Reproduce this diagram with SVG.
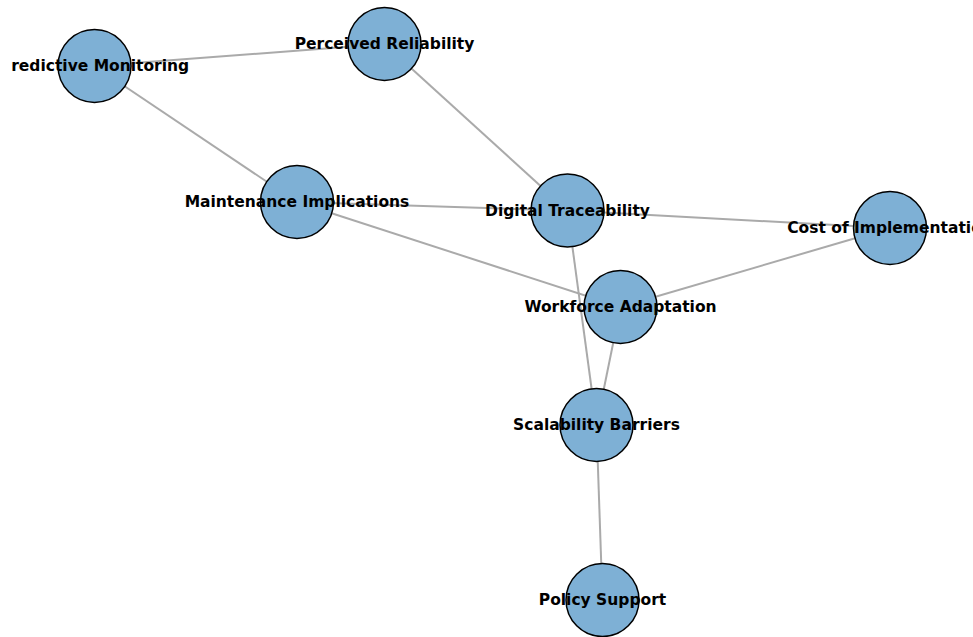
<svg xmlns="http://www.w3.org/2000/svg" width="973" height="637" viewBox="0 0 973 637">
<style>
.e{stroke:#aaaaaa;stroke-width:2;fill:none}
.n{fill:#7eb0d5;stroke:#000;stroke-width:1.5}
.t{font-family:"DejaVu Sans",sans-serif;font-weight:bold;font-size:15.5px;fill:#000;text-anchor:middle}
</style>
<defs>
<clipPath id="clipL"><rect x="11.5" y="0" width="961.5" height="637"/></clipPath>
</defs>
<rect width="973" height="637" fill="#fff"/>
<g id="edges">
<line class="e" x1="94.5" y1="66" x2="384.5" y2="44"/>
<line class="e" x1="94.5" y1="66" x2="297" y2="202"/>
<line class="e" x1="384.5" y1="44" x2="567.5" y2="210.5"/>
<line class="e" x1="297" y1="202" x2="567.5" y2="210.5"/>
<line class="e" x1="297" y1="202" x2="620.5" y2="307"/>
<line class="e" x1="567.5" y1="210.5" x2="890" y2="228"/>
<line class="e" x1="567.5" y1="210.5" x2="596.5" y2="425"/>
<line class="e" x1="890" y1="228" x2="620.5" y2="307"/>
<line class="e" x1="620.5" y1="307" x2="596.5" y2="425"/>
<line class="e" x1="596.5" y1="425" x2="602.5" y2="600"/>
</g>
<g id="pm"><circle class="n" cx="94.5" cy="66" r="36.5"/></g>
<g id="pr"><circle class="n" cx="384.5" cy="44" r="36.5"/></g>
<g id="mi"><circle class="n" cx="297" cy="202" r="36.5"/></g>
<g id="dt"><circle class="n" cx="567.5" cy="210.5" r="36.5"/></g>
<g id="ci"><circle class="n" cx="890" cy="228" r="36.5"/></g>
<g id="wa"><circle class="n" cx="620.5" cy="307" r="36.5"/></g>
<g id="sb"><circle class="n" cx="596.5" cy="425" r="36.5"/></g>
<g id="ps"><circle class="n" cx="602.5" cy="600" r="36.5"/></g>
<g id="labels">
<text class="t" x="94.5" y="71" clip-path="url(#clipL)">Predictive Monitoring</text>
<text class="t" x="384.5" y="49">Perceived Reliability</text>
<text class="t" x="297" y="207">Maintenance Implications</text>
<text class="t" x="567.5" y="215.5">Digital Traceability</text>
<text class="t" x="890" y="233">Cost of Implementation</text>
<text class="t" x="620.5" y="312">Workforce Adaptation</text>
<text class="t" x="596.5" y="430">Scalability Barriers</text>
<text class="t" x="602.5" y="605">Policy Support</text>
</g>
</svg>
